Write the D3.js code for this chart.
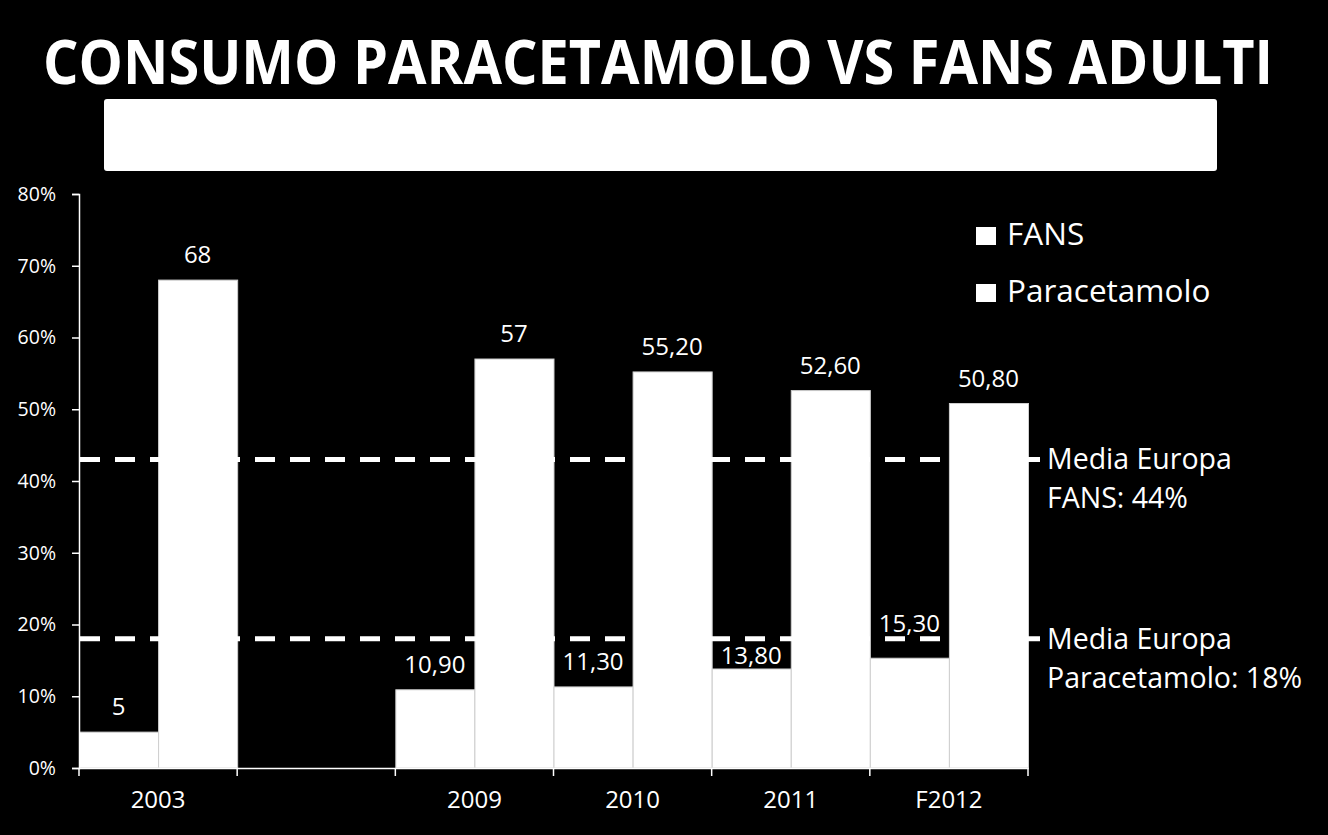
<!DOCTYPE html>
<html>
<head>
<meta charset="utf-8">
<script src="https://cdn.jsdelivr.net/npm/d3@7"></script>
<style>
  html, body { margin: 0; padding: 0; background: #000; }
  svg { display: block; }
  text { font-family: "Open Sans", sans-serif; fill: #fff; }
</style>
</head>
<body>
<svg id="chart" width="1328" height="835"></svg>
<script>
// chart data
var categories = ['2003', '', '2009', '2010', '2011', 'F2012'];
var seriesNames = ['FANS', 'Paracetamolo'];
var fansValues = [5, null, 10.9, 11.3, 13.8, 15.3];
var paraValues = [68, null, 57, 55.2, 52.6, 50.8];
var fansLabels = ['5', '', '10,90', '11,30', '13,80', '15,30'];
var paraLabels = ['68', '', '57', '55,20', '52,60', '50,80'];
var yTicks = [0, 0.1, 0.2, 0.3, 0.4, 0.5, 0.6, 0.7, 0.8];
var refValues = [43, 18];
var refLabels = [['Media Europa', 'FANS: 44%'], ['Media Europa', 'Paracetamolo: 18%']];
var titleText = 'CONSUMO PARACETAMOLO VS FANS ADULTI';

var svg = d3.select('#chart');

svg.append('rect')
    .attr('width', 1328).attr('height', 835)
    .attr('fill', '#000');

// title + empty white banner under it
svg.append('text')
    .attr('x', 43).attr('y', 84)
    .attr('textLength', 1230)
    .attr('lengthAdjust', 'spacingAndGlyphs')
    .style('font-size', '61px')
    .style('font-weight', 'bold')
    .text(titleText);

svg.append('rect')
    .attr('x', 104).attr('y', 99)
    .attr('width', 1113).attr('height', 72)
    .attr('rx', 3)
    .attr('fill', '#fff');

var plotLeft = 79, plotRight = 1028, plotTop = 194, plotBottom = 768;

var x = d3.scaleBand().domain(categories).range([plotLeft, plotRight]).padding(0);
var xs = d3.scaleBand().domain(seriesNames).range([0, x.bandwidth()]).padding(0);
var y = d3.scaleLinear().domain([0, 0.8]).range([plotBottom, plotTop]);

var rows = categories.map(function (c, i) {
    return [
        {cat: c, s: 'FANS', v: fansValues[i], label: fansLabels[i]},
        {cat: c, s: 'Paracetamolo', v: paraValues[i], label: paraLabels[i]}
    ];
});
var bars = d3.merge(rows).filter(function (d) { return d.v !== null; });

var plot = svg.append('g');

plot.selectAll('rect.bar')
    .data(bars)
    .enter()
    .append('rect')
    .attr('class', 'bar')
    .attr('x', function (d) { return x(d.cat) + xs(d.s) + 0.5; })
    .attr('y', function (d) { return y(d.v / 100); })
    .attr('width', xs.bandwidth())
    .attr('height', function (d) { return plotBottom - y(d.v / 100); })
    .attr('fill', '#fff')
    .attr('stroke', '#cfcfcf')
    .attr('stroke-width', 1);

// two FANS labels were dragged off the dashed line in the original
var labelGap = function (d) {
    if (d.s === 'FANS' && d.cat === '2011') return 5;
    if (d.s === 'FANS' && d.cat === 'F2012') return 26;
    return 17;
};

plot.selectAll('text.val')
    .data(bars)
    .enter()
    .append('text')
    .attr('class', 'val')
    .attr('x', function (d) { return x(d.cat) + xs(d.s) + xs.bandwidth() / 2; })
    .attr('y', function (d) { return y(d.v / 100) - labelGap(d); })
    .attr('text-anchor', 'middle')
    .style('font-size', '24px')
    .text(function (d) { return d.label; });

// y axis
var yAxis = svg.append('g')
    .attr('transform', 'translate(' + plotLeft + ',0)')
    .call(d3.axisLeft(y).tickValues(yTicks).tickFormat(d3.format('.0%')).tickSize(7).tickPadding(16));
yAxis.select('.domain').attr('stroke', '#fff').attr('stroke-width', 1.5);
yAxis.selectAll('.tick line').attr('stroke', '#fff').attr('stroke-width', 1.5);
yAxis.selectAll('.tick text')
    .style('font-size', '19.5px')
    .style('font-family', '"Open Sans", sans-serif')
    .attr('fill', '#fff');

// x axis: baseline, boundary ticks, centred labels
var xAxis = svg.append('g')
    .attr('transform', 'translate(0,' + plotBottom + ')')
    .call(d3.axisBottom(x).tickSize(0).tickPadding(23));
xAxis.select('.domain').attr('stroke', '#fff').attr('stroke-width', 1.5);
xAxis.selectAll('.tick text')
    .style('font-size', '24px')
    .style('font-family', '"Open Sans", sans-serif')
    .attr('fill', '#fff');

var bounds = categories.map(function (c) { return x(c); }).concat([plotRight]);
xAxis.selectAll('line.bound')
    .data(bounds)
    .enter()
    .append('line')
    .attr('class', 'bound')
    .attr('x1', function (d) { return d; })
    .attr('x2', function (d) { return d; })
    .attr('y1', 0).attr('y2', 8)
    .attr('stroke', '#fff')
    .attr('stroke-width', 1.5);

// european averages
svg.selectAll('line.ref')
    .data(refValues)
    .enter()
    .append('line')
    .attr('class', 'ref')
    .attr('x1', plotLeft + 1).attr('x2', 1040)
    .attr('y1', function (d) { return y(d / 100); })
    .attr('y2', function (d) { return y(d / 100); })
    .attr('stroke', '#fff')
    .attr('stroke-width', 5)
    .attr('stroke-dasharray', '20,15');

var refText = svg.selectAll('text.ref')
    .data(refValues)
    .enter()
    .append('text')
    .attr('class', 'ref')
    .attr('x', 1047)
    .attr('y', function (d) { return y(d / 100) + 10; })
    .style('font-size', '28.5px');
refText.append('tspan')
    .attr('x', 1047)
    .text(function (d, i) { return refLabels[i][0]; });
refText.append('tspan')
    .attr('x', 1047)
    .attr('dy', 39)
    .text(function (d, i) { return refLabels[i][1]; });

// legend
var legend = svg.selectAll('g.legend')
    .data(seriesNames)
    .enter()
    .append('g')
    .attr('class', 'legend')
    .attr('transform', function (d, i) { return 'translate(976,' + (227 + i * 57) + ')'; });
legend.append('rect')
    .attr('width', 20).attr('height', 18)
    .attr('fill', '#fff');
legend.append('text')
    .attr('x', 31).attr('y', 18)
    .style('font-size', '31.5px')
    .text(function (d) { return d; });
</script>
</body>
</html>
